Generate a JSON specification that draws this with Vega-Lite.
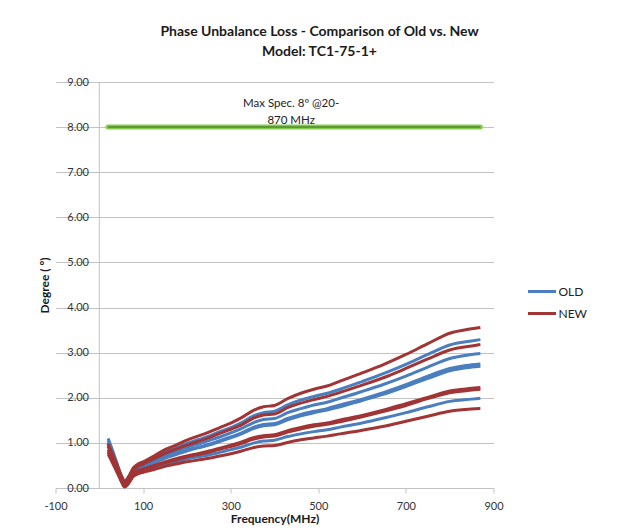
{
  "$schema": "https://vega.github.io/schema/vega-lite/v6.json",
  "width": 438,
  "height": 406,
  "autosize": {"type": "none"},
  "padding": {"left": 55.5, "top": 82, "right": 132.5, "bottom": 43},
  "background": "white",
  "title": {
    "text": ["Phase Unbalance Loss - Comparison of Old vs. New", "Model:  TC1-75-1+"],
    "font": "Lato",
    "fontSize": 14,
    "fontWeight": "bold",
    "color": "#1a1a1a",
    "lineHeight": 20,
    "offset": 17,
    "anchor": "middle",
    "dx": 45
  },
  "config": {
    "view": {"stroke": null},
    "axis": {
      "labelFont": "Lato",
      "labelFontSize": 11,
      "labelColor": "#333333",
      "titleFont": "Lato",
      "titleFontSize": 12,
      "titleFontWeight": "bold",
      "titleColor": "#1a1a1a",
      "gridColor": "#c2c2c2",
      "domainColor": "#c2c2c2",
      "tickColor": "#c2c2c2"
    },
    "legend": {
      "labelFont": "Lato",
      "labelFontSize": 12,
      "labelColor": "#222222"
    }
  },
  "layer": [
    {
      "data": {"values": [{"f": 0}]},
      "mark": {"type": "rule", "color": "#c2c2c2", "strokeWidth": 1},
      "encoding": {
        "x": {"field": "f", "type": "quantitative", "title": "Frequency(MHz)"}
      }
    },
    {
      "data": {"values": [{"f": 20, "v": 8}, {"f": 870, "v": 8}]},
      "mark": {"type": "line", "color": "#84cc4c", "strokeWidth": 5, "strokeCap": "round"},
      "encoding": {
        "x": {"field": "f", "type": "quantitative", "title": "Frequency(MHz)"},
        "y": {"field": "v", "type": "quantitative", "title": "Degree ( º)"}
      }
    },
    {
      "data": {"values": [{"f": 20, "v": 8}, {"f": 870, "v": 8}]},
      "mark": {"type": "line", "color": "#4e8a2c", "strokeWidth": 1.5},
      "encoding": {
        "x": {"field": "f", "type": "quantitative", "title": "Frequency(MHz)"},
        "y": {"field": "v", "type": "quantitative", "title": "Degree ( º)"}
      }
    },
    {
      "data": {"values": [{"f": 438, "v": 8.51, "label": "Max Spec. 8º @20-\n870 MHz"}]},
      "mark": {"type": "text", "font": "Lato", "fontSize": 11.5, "color": "#222222", "lineBreak": "\n", "lineHeight": 17, "align": "center", "baseline": "middle"},
      "encoding": {
        "x": {"field": "f", "type": "quantitative", "title": "Frequency(MHz)"},
        "y": {"field": "v", "type": "quantitative", "title": "Degree ( º)"},
        "text": {"field": "label"}
      }
    },
    {
      "data": {"values": [
        {"s":"O1","g":"OLD","f":20,"v":1.10},{"s":"O1","g":"OLD","f":30,"v":0.84},{"s":"O1","g":"OLD","f":40,"v":0.56},{"s":"O1","g":"OLD","f":50,"v":0.28},{"s":"O1","g":"OLD","f":58,"v":0.14},{"s":"O1","g":"OLD","f":66,"v":0.22},{"s":"O1","g":"OLD","f":78,"v":0.42},{"s":"O1","g":"OLD","f":90,"v":0.51},{"s":"O1","g":"OLD","f":100,"v":0.55},{"s":"O1","g":"OLD","f":125,"v":0.67},{"s":"O1","g":"OLD","f":150,"v":0.80},{"s":"O1","g":"OLD","f":175,"v":0.89},{"s":"O1","g":"OLD","f":200,"v":0.99},{"s":"O1","g":"OLD","f":225,"v":1.07},{"s":"O1","g":"OLD","f":250,"v":1.15},{"s":"O1","g":"OLD","f":275,"v":1.25},{"s":"O1","g":"OLD","f":300,"v":1.34},{"s":"O1","g":"OLD","f":325,"v":1.45},{"s":"O1","g":"OLD","f":350,"v":1.59},{"s":"O1","g":"OLD","f":375,"v":1.67},{"s":"O1","g":"OLD","f":400,"v":1.70},{"s":"O1","g":"OLD","f":430,"v":1.84},{"s":"O1","g":"OLD","f":460,"v":1.95},{"s":"O1","g":"OLD","f":490,"v":2.03},{"s":"O1","g":"OLD","f":520,"v":2.10},{"s":"O1","g":"OLD","f":550,"v":2.19},{"s":"O1","g":"OLD","f":600,"v":2.36},{"s":"O1","g":"OLD","f":650,"v":2.54},{"s":"O1","g":"OLD","f":700,"v":2.74},{"s":"O1","g":"OLD","f":750,"v":2.96},{"s":"O1","g":"OLD","f":800,"v":3.17},{"s":"O1","g":"OLD","f":850,"v":3.26},{"s":"O1","g":"OLD","f":870,"v":3.29},
        {"s":"O2","g":"OLD","f":20,"v":1.05},{"s":"O2","g":"OLD","f":30,"v":0.80},{"s":"O2","g":"OLD","f":40,"v":0.53},{"s":"O2","g":"OLD","f":50,"v":0.26},{"s":"O2","g":"OLD","f":58,"v":0.10},{"s":"O2","g":"OLD","f":66,"v":0.18},{"s":"O2","g":"OLD","f":78,"v":0.38},{"s":"O2","g":"OLD","f":90,"v":0.46},{"s":"O2","g":"OLD","f":100,"v":0.50},{"s":"O2","g":"OLD","f":125,"v":0.61},{"s":"O2","g":"OLD","f":150,"v":0.72},{"s":"O2","g":"OLD","f":175,"v":0.81},{"s":"O2","g":"OLD","f":200,"v":0.90},{"s":"O2","g":"OLD","f":225,"v":0.97},{"s":"O2","g":"OLD","f":250,"v":1.05},{"s":"O2","g":"OLD","f":275,"v":1.13},{"s":"O2","g":"OLD","f":300,"v":1.22},{"s":"O2","g":"OLD","f":325,"v":1.32},{"s":"O2","g":"OLD","f":350,"v":1.44},{"s":"O2","g":"OLD","f":375,"v":1.52},{"s":"O2","g":"OLD","f":400,"v":1.54},{"s":"O2","g":"OLD","f":430,"v":1.67},{"s":"O2","g":"OLD","f":460,"v":1.76},{"s":"O2","g":"OLD","f":490,"v":1.84},{"s":"O2","g":"OLD","f":520,"v":1.90},{"s":"O2","g":"OLD","f":550,"v":1.99},{"s":"O2","g":"OLD","f":600,"v":2.14},{"s":"O2","g":"OLD","f":650,"v":2.30},{"s":"O2","g":"OLD","f":700,"v":2.48},{"s":"O2","g":"OLD","f":750,"v":2.68},{"s":"O2","g":"OLD","f":800,"v":2.87},{"s":"O2","g":"OLD","f":850,"v":2.96},{"s":"O2","g":"OLD","f":870,"v":2.98},
        {"s":"O3","g":"OLD","f":20,"v":1.00},{"s":"O3","g":"OLD","f":30,"v":0.76},{"s":"O3","g":"OLD","f":40,"v":0.50},{"s":"O3","g":"OLD","f":50,"v":0.23},{"s":"O3","g":"OLD","f":58,"v":0.08},{"s":"O3","g":"OLD","f":66,"v":0.16},{"s":"O3","g":"OLD","f":78,"v":0.35},{"s":"O3","g":"OLD","f":90,"v":0.43},{"s":"O3","g":"OLD","f":100,"v":0.47},{"s":"O3","g":"OLD","f":125,"v":0.57},{"s":"O3","g":"OLD","f":150,"v":0.68},{"s":"O3","g":"OLD","f":175,"v":0.76},{"s":"O3","g":"OLD","f":200,"v":0.84},{"s":"O3","g":"OLD","f":225,"v":0.90},{"s":"O3","g":"OLD","f":250,"v":0.97},{"s":"O3","g":"OLD","f":275,"v":1.05},{"s":"O3","g":"OLD","f":300,"v":1.13},{"s":"O3","g":"OLD","f":325,"v":1.22},{"s":"O3","g":"OLD","f":350,"v":1.34},{"s":"O3","g":"OLD","f":375,"v":1.41},{"s":"O3","g":"OLD","f":400,"v":1.43},{"s":"O3","g":"OLD","f":430,"v":1.54},{"s":"O3","g":"OLD","f":460,"v":1.63},{"s":"O3","g":"OLD","f":490,"v":1.70},{"s":"O3","g":"OLD","f":520,"v":1.76},{"s":"O3","g":"OLD","f":550,"v":1.84},{"s":"O3","g":"OLD","f":600,"v":1.97},{"s":"O3","g":"OLD","f":650,"v":2.12},{"s":"O3","g":"OLD","f":700,"v":2.29},{"s":"O3","g":"OLD","f":750,"v":2.48},{"s":"O3","g":"OLD","f":800,"v":2.65},{"s":"O3","g":"OLD","f":850,"v":2.73},{"s":"O3","g":"OLD","f":870,"v":2.75},
        {"s":"O4","g":"OLD","f":20,"v":0.98},{"s":"O4","g":"OLD","f":30,"v":0.74},{"s":"O4","g":"OLD","f":40,"v":0.48},{"s":"O4","g":"OLD","f":50,"v":0.22},{"s":"O4","g":"OLD","f":58,"v":0.07},{"s":"O4","g":"OLD","f":66,"v":0.15},{"s":"O4","g":"OLD","f":78,"v":0.34},{"s":"O4","g":"OLD","f":90,"v":0.42},{"s":"O4","g":"OLD","f":100,"v":0.46},{"s":"O4","g":"OLD","f":125,"v":0.56},{"s":"O4","g":"OLD","f":150,"v":0.66},{"s":"O4","g":"OLD","f":175,"v":0.74},{"s":"O4","g":"OLD","f":200,"v":0.82},{"s":"O4","g":"OLD","f":225,"v":0.89},{"s":"O4","g":"OLD","f":250,"v":0.95},{"s":"O4","g":"OLD","f":275,"v":1.03},{"s":"O4","g":"OLD","f":300,"v":1.11},{"s":"O4","g":"OLD","f":325,"v":1.20},{"s":"O4","g":"OLD","f":350,"v":1.31},{"s":"O4","g":"OLD","f":375,"v":1.38},{"s":"O4","g":"OLD","f":400,"v":1.40},{"s":"O4","g":"OLD","f":430,"v":1.51},{"s":"O4","g":"OLD","f":460,"v":1.60},{"s":"O4","g":"OLD","f":490,"v":1.67},{"s":"O4","g":"OLD","f":520,"v":1.73},{"s":"O4","g":"OLD","f":550,"v":1.80},{"s":"O4","g":"OLD","f":600,"v":1.94},{"s":"O4","g":"OLD","f":650,"v":2.08},{"s":"O4","g":"OLD","f":700,"v":2.25},{"s":"O4","g":"OLD","f":750,"v":2.43},{"s":"O4","g":"OLD","f":800,"v":2.60},{"s":"O4","g":"OLD","f":850,"v":2.68},{"s":"O4","g":"OLD","f":870,"v":2.70},
        {"s":"O5","g":"OLD","f":20,"v":0.95},{"s":"O5","g":"OLD","f":30,"v":0.70},{"s":"O5","g":"OLD","f":40,"v":0.44},{"s":"O5","g":"OLD","f":50,"v":0.18},{"s":"O5","g":"OLD","f":58,"v":0.03},{"s":"O5","g":"OLD","f":66,"v":0.10},{"s":"O5","g":"OLD","f":78,"v":0.28},{"s":"O5","g":"OLD","f":90,"v":0.35},{"s":"O5","g":"OLD","f":100,"v":0.38},{"s":"O5","g":"OLD","f":125,"v":0.45},{"s":"O5","g":"OLD","f":150,"v":0.53},{"s":"O5","g":"OLD","f":175,"v":0.58},{"s":"O5","g":"OLD","f":200,"v":0.64},{"s":"O5","g":"OLD","f":225,"v":0.69},{"s":"O5","g":"OLD","f":250,"v":0.73},{"s":"O5","g":"OLD","f":275,"v":0.79},{"s":"O5","g":"OLD","f":300,"v":0.85},{"s":"O5","g":"OLD","f":325,"v":0.91},{"s":"O5","g":"OLD","f":350,"v":0.99},{"s":"O5","g":"OLD","f":375,"v":1.04},{"s":"O5","g":"OLD","f":400,"v":1.06},{"s":"O5","g":"OLD","f":430,"v":1.14},{"s":"O5","g":"OLD","f":460,"v":1.20},{"s":"O5","g":"OLD","f":490,"v":1.25},{"s":"O5","g":"OLD","f":520,"v":1.29},{"s":"O5","g":"OLD","f":550,"v":1.35},{"s":"O5","g":"OLD","f":600,"v":1.44},{"s":"O5","g":"OLD","f":650,"v":1.55},{"s":"O5","g":"OLD","f":700,"v":1.67},{"s":"O5","g":"OLD","f":750,"v":1.80},{"s":"O5","g":"OLD","f":800,"v":1.92},{"s":"O5","g":"OLD","f":850,"v":1.97},{"s":"O5","g":"OLD","f":870,"v":1.99},
        {"s":"N1","g":"NEW","f":20,"v":0.98},{"s":"N1","g":"NEW","f":30,"v":0.75},{"s":"N1","g":"NEW","f":40,"v":0.52},{"s":"N1","g":"NEW","f":50,"v":0.28},{"s":"N1","g":"NEW","f":58,"v":0.15},{"s":"N1","g":"NEW","f":66,"v":0.24},{"s":"N1","g":"NEW","f":78,"v":0.45},{"s":"N1","g":"NEW","f":90,"v":0.54},{"s":"N1","g":"NEW","f":100,"v":0.58},{"s":"N1","g":"NEW","f":125,"v":0.71},{"s":"N1","g":"NEW","f":150,"v":0.85},{"s":"N1","g":"NEW","f":175,"v":0.95},{"s":"N1","g":"NEW","f":200,"v":1.06},{"s":"N1","g":"NEW","f":225,"v":1.15},{"s":"N1","g":"NEW","f":250,"v":1.24},{"s":"N1","g":"NEW","f":275,"v":1.34},{"s":"N1","g":"NEW","f":300,"v":1.44},{"s":"N1","g":"NEW","f":325,"v":1.56},{"s":"N1","g":"NEW","f":350,"v":1.71},{"s":"N1","g":"NEW","f":375,"v":1.80},{"s":"N1","g":"NEW","f":400,"v":1.83},{"s":"N1","g":"NEW","f":430,"v":1.98},{"s":"N1","g":"NEW","f":460,"v":2.10},{"s":"N1","g":"NEW","f":490,"v":2.19},{"s":"N1","g":"NEW","f":520,"v":2.26},{"s":"N1","g":"NEW","f":550,"v":2.37},{"s":"N1","g":"NEW","f":600,"v":2.55},{"s":"N1","g":"NEW","f":650,"v":2.74},{"s":"N1","g":"NEW","f":700,"v":2.96},{"s":"N1","g":"NEW","f":750,"v":3.20},{"s":"N1","g":"NEW","f":800,"v":3.43},{"s":"N1","g":"NEW","f":850,"v":3.53},{"s":"N1","g":"NEW","f":870,"v":3.56},
        {"s":"N2","g":"NEW","f":20,"v":0.92},{"s":"N2","g":"NEW","f":30,"v":0.70},{"s":"N2","g":"NEW","f":40,"v":0.48},{"s":"N2","g":"NEW","f":50,"v":0.25},{"s":"N2","g":"NEW","f":58,"v":0.12},{"s":"N2","g":"NEW","f":66,"v":0.20},{"s":"N2","g":"NEW","f":78,"v":0.40},{"s":"N2","g":"NEW","f":90,"v":0.49},{"s":"N2","g":"NEW","f":100,"v":0.53},{"s":"N2","g":"NEW","f":125,"v":0.65},{"s":"N2","g":"NEW","f":150,"v":0.77},{"s":"N2","g":"NEW","f":175,"v":0.86},{"s":"N2","g":"NEW","f":200,"v":0.95},{"s":"N2","g":"NEW","f":225,"v":1.03},{"s":"N2","g":"NEW","f":250,"v":1.11},{"s":"N2","g":"NEW","f":275,"v":1.21},{"s":"N2","g":"NEW","f":300,"v":1.30},{"s":"N2","g":"NEW","f":325,"v":1.40},{"s":"N2","g":"NEW","f":350,"v":1.54},{"s":"N2","g":"NEW","f":375,"v":1.62},{"s":"N2","g":"NEW","f":400,"v":1.64},{"s":"N2","g":"NEW","f":430,"v":1.78},{"s":"N2","g":"NEW","f":460,"v":1.88},{"s":"N2","g":"NEW","f":490,"v":1.96},{"s":"N2","g":"NEW","f":520,"v":2.03},{"s":"N2","g":"NEW","f":550,"v":2.12},{"s":"N2","g":"NEW","f":600,"v":2.28},{"s":"N2","g":"NEW","f":650,"v":2.45},{"s":"N2","g":"NEW","f":700,"v":2.65},{"s":"N2","g":"NEW","f":750,"v":2.86},{"s":"N2","g":"NEW","f":800,"v":3.06},{"s":"N2","g":"NEW","f":850,"v":3.15},{"s":"N2","g":"NEW","f":870,"v":3.18},
        {"s":"N3","g":"NEW","f":20,"v":0.85},{"s":"N3","g":"NEW","f":30,"v":0.64},{"s":"N3","g":"NEW","f":40,"v":0.42},{"s":"N3","g":"NEW","f":50,"v":0.19},{"s":"N3","g":"NEW","f":58,"v":0.05},{"s":"N3","g":"NEW","f":66,"v":0.13},{"s":"N3","g":"NEW","f":78,"v":0.31},{"s":"N3","g":"NEW","f":90,"v":0.39},{"s":"N3","g":"NEW","f":100,"v":0.42},{"s":"N3","g":"NEW","f":125,"v":0.50},{"s":"N3","g":"NEW","f":150,"v":0.58},{"s":"N3","g":"NEW","f":175,"v":0.65},{"s":"N3","g":"NEW","f":200,"v":0.71},{"s":"N3","g":"NEW","f":225,"v":0.76},{"s":"N3","g":"NEW","f":250,"v":0.82},{"s":"N3","g":"NEW","f":275,"v":0.88},{"s":"N3","g":"NEW","f":300,"v":0.95},{"s":"N3","g":"NEW","f":325,"v":1.02},{"s":"N3","g":"NEW","f":350,"v":1.11},{"s":"N3","g":"NEW","f":375,"v":1.16},{"s":"N3","g":"NEW","f":400,"v":1.18},{"s":"N3","g":"NEW","f":430,"v":1.27},{"s":"N3","g":"NEW","f":460,"v":1.34},{"s":"N3","g":"NEW","f":490,"v":1.40},{"s":"N3","g":"NEW","f":520,"v":1.44},{"s":"N3","g":"NEW","f":550,"v":1.51},{"s":"N3","g":"NEW","f":600,"v":1.61},{"s":"N3","g":"NEW","f":650,"v":1.73},{"s":"N3","g":"NEW","f":700,"v":1.87},{"s":"N3","g":"NEW","f":750,"v":2.01},{"s":"N3","g":"NEW","f":800,"v":2.15},{"s":"N3","g":"NEW","f":850,"v":2.21},{"s":"N3","g":"NEW","f":870,"v":2.23},
        {"s":"N4","g":"NEW","f":20,"v":0.80},{"s":"N4","g":"NEW","f":30,"v":0.60},{"s":"N4","g":"NEW","f":40,"v":0.39},{"s":"N4","g":"NEW","f":50,"v":0.17},{"s":"N4","g":"NEW","f":58,"v":0.04},{"s":"N4","g":"NEW","f":66,"v":0.12},{"s":"N4","g":"NEW","f":78,"v":0.30},{"s":"N4","g":"NEW","f":90,"v":0.37},{"s":"N4","g":"NEW","f":100,"v":0.40},{"s":"N4","g":"NEW","f":125,"v":0.48},{"s":"N4","g":"NEW","f":150,"v":0.56},{"s":"N4","g":"NEW","f":175,"v":0.62},{"s":"N4","g":"NEW","f":200,"v":0.69},{"s":"N4","g":"NEW","f":225,"v":0.74},{"s":"N4","g":"NEW","f":250,"v":0.79},{"s":"N4","g":"NEW","f":275,"v":0.86},{"s":"N4","g":"NEW","f":300,"v":0.92},{"s":"N4","g":"NEW","f":325,"v":0.99},{"s":"N4","g":"NEW","f":350,"v":1.08},{"s":"N4","g":"NEW","f":375,"v":1.13},{"s":"N4","g":"NEW","f":400,"v":1.15},{"s":"N4","g":"NEW","f":430,"v":1.24},{"s":"N4","g":"NEW","f":460,"v":1.31},{"s":"N4","g":"NEW","f":490,"v":1.37},{"s":"N4","g":"NEW","f":520,"v":1.41},{"s":"N4","g":"NEW","f":550,"v":1.47},{"s":"N4","g":"NEW","f":600,"v":1.58},{"s":"N4","g":"NEW","f":650,"v":1.70},{"s":"N4","g":"NEW","f":700,"v":1.83},{"s":"N4","g":"NEW","f":750,"v":1.98},{"s":"N4","g":"NEW","f":800,"v":2.11},{"s":"N4","g":"NEW","f":850,"v":2.17},{"s":"N4","g":"NEW","f":870,"v":2.19},
        {"s":"N5","g":"NEW","f":20,"v":0.75},{"s":"N5","g":"NEW","f":30,"v":0.56},{"s":"N5","g":"NEW","f":40,"v":0.36},{"s":"N5","g":"NEW","f":50,"v":0.15},{"s":"N5","g":"NEW","f":58,"v":0.02},{"s":"N5","g":"NEW","f":66,"v":0.09},{"s":"N5","g":"NEW","f":78,"v":0.26},{"s":"N5","g":"NEW","f":90,"v":0.32},{"s":"N5","g":"NEW","f":100,"v":0.35},{"s":"N5","g":"NEW","f":125,"v":0.41},{"s":"N5","g":"NEW","f":150,"v":0.48},{"s":"N5","g":"NEW","f":175,"v":0.53},{"s":"N5","g":"NEW","f":200,"v":0.58},{"s":"N5","g":"NEW","f":225,"v":0.62},{"s":"N5","g":"NEW","f":250,"v":0.66},{"s":"N5","g":"NEW","f":275,"v":0.71},{"s":"N5","g":"NEW","f":300,"v":0.76},{"s":"N5","g":"NEW","f":325,"v":0.82},{"s":"N5","g":"NEW","f":350,"v":0.89},{"s":"N5","g":"NEW","f":375,"v":0.93},{"s":"N5","g":"NEW","f":400,"v":0.94},{"s":"N5","g":"NEW","f":430,"v":1.01},{"s":"N5","g":"NEW","f":460,"v":1.07},{"s":"N5","g":"NEW","f":490,"v":1.11},{"s":"N5","g":"NEW","f":520,"v":1.15},{"s":"N5","g":"NEW","f":550,"v":1.20},{"s":"N5","g":"NEW","f":600,"v":1.28},{"s":"N5","g":"NEW","f":650,"v":1.37},{"s":"N5","g":"NEW","f":700,"v":1.48},{"s":"N5","g":"NEW","f":750,"v":1.59},{"s":"N5","g":"NEW","f":800,"v":1.70},{"s":"N5","g":"NEW","f":850,"v":1.75},{"s":"N5","g":"NEW","f":870,"v":1.76}
      ]},
      "mark": {"type": "line", "strokeWidth": 3, "interpolate": "monotone"},
      "encoding": {
        "x": {
          "field": "f", "type": "quantitative", "title": "Frequency(MHz)",
          "scale": {"domain": [-100, 900], "nice": false, "zero": false},
          "axis": {"values": [-100, 100, 300, 500, 700, 900], "labelExpr": "replace(datum.label, '\u2212', '-')", "grid": false, "domain": true, "ticks": true, "tickSize": 5, "labelPadding": 7, "titlePadding": 2, "labelFlush": false}
        },
        "y": {
          "field": "v", "type": "quantitative", "title": "Degree ( º)",
          "scale": {"domain": [0, 9], "nice": false},
          "axis": {"values": [0, 1, 2, 3, 4, 5, 6, 7, 8, 9], "format": ".2f", "grid": true, "domain": false, "ticks": false, "tickSize": 0, "labelPadding": -33, "titlePadding": 4, "labelFlush": false}
        },
        "color": {
          "field": "g", "type": "nominal", "title": null,
          "scale": {"domain": ["OLD", "NEW"], "range": ["#4a7ebf", "#a13434"]},
          "legend": {"orient": "none", "legendX": 471, "legendY": 194, "symbolType": "stroke", "symbolSize": 784, "symbolStrokeWidth": 3, "rowPadding": -14, "labelOffset": 1}
        },
        "detail": {"field": "s", "type": "nominal"},
        "order": {"field": "f", "type": "quantitative"}
      }
    }
  ]
}
